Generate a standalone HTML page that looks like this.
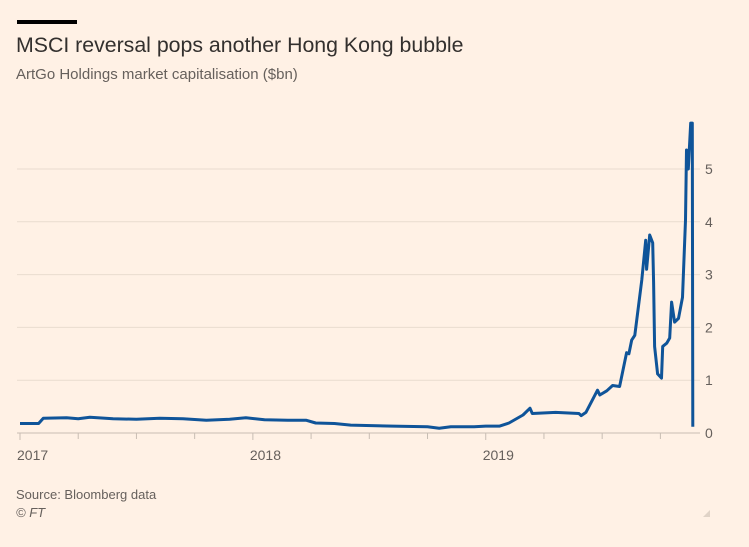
<!DOCTYPE html>
<html><head><meta charset="utf-8"><style>
body{margin:0;background:#fff1e5;font-family:"Liberation Sans",sans-serif;}
#wrap{position:relative;width:749px;height:547px;overflow:hidden;}
.t{position:absolute;white-space:nowrap;}
</style></head><body>
<div id="wrap">
<div class="t" style="left:17px;top:20px;width:60px;height:4px;background:#000"></div>
<div class="t" style="left:16px;top:33px;font-size:21.3px;color:#33302e">MSCI reversal pops another Hong Kong bubble</div>
<div class="t" style="left:16px;top:66px;font-size:15px;color:#66605c">ArtGo Holdings market capitalisation ($bn)</div>
<svg id="chart" width="749" height="547" style="position:absolute;left:0;top:0"></svg>
<div class="t" style="left:16px;top:487px;font-size:13px;color:#66605c">Source: Bloomberg data</div>
<div class="t" style="left:16px;top:505px;font-size:13px;font-style:italic;color:#66605c">© FT</div>
</div>
<script>
const yTicks=[0,1,2,3,4,5];
const xYears=[2017,2018,2019];
const dates=[2017.0,2017.08,2017.1,2017.2,2017.25,2017.3,2017.4,2017.5,2017.6,2017.7,2017.8,2017.9,2017.97,2018.05,2018.15,2018.23,2018.27,2018.35,2018.42,2018.6,2018.75,2018.8,2018.85,2018.95,2019.0,2019.06,2019.10,2019.16,2019.19,2019.20,2019.30,2019.40,2019.41,2019.43,2019.48,2019.49,2019.52,2019.545,2019.575,2019.605,2019.615,2019.627,2019.64,2019.67,2019.687,2019.691,2019.704,2019.717,2019.721,2019.725,2019.738,2019.755,2019.76,2019.777,2019.79,2019.798,2019.811,2019.828,2019.845,2019.858,2019.862,2019.87,2019.88,2019.887,2019.889];
const values=[0.18,0.18,0.28,0.29,0.27,0.3,0.27,0.26,0.28,0.27,0.24,0.26,0.29,0.25,0.24,0.24,0.19,0.18,0.15,0.13,0.12,0.09,0.12,0.12,0.13,0.13,0.19,0.34,0.47,0.37,0.39,0.37,0.33,0.39,0.81,0.72,0.8,0.9,0.88,1.52,1.5,1.76,1.85,2.9,3.65,3.1,3.75,3.6,2.85,1.64,1.12,1.04,1.64,1.7,1.8,2.48,2.1,2.17,2.57,4.03,5.36,5.0,5.87,5.87,0.12];
const NS="http://www.w3.org/2000/svg";
const svg=document.getElementById('chart');
const x0=20,x1=686,d0=2017,d1=2019.86;
const X=d=>x0+(d-d0)/(d1-d0)*(x1-x0);
const Y=v=>433-v*52.8;
function mk(tag,attrs){const e=document.createElementNS(NS,tag);for(const k in attrs)e.setAttribute(k,attrs[k]);svg.appendChild(e);return e;}
yTicks.forEach(v=>{
  const g=mk('line',{x1:17,x2:700,y1:Y(v),y2:Y(v),stroke:v===0?'#c8bdb3':'#e9dccf','stroke-width':1});
  
  
  const t=mk('text',{x:705,y:Y(v)+5,'font-size':14,fill:'#66605c','font-family':'Liberation Sans, sans-serif'});
  t.textContent=v;
  
  
});
for(let q=0;q<12;q++){
  const d=2017+q/4;
  const tk=mk('line',{x1:X(d),x2:X(d),y1:433,y2:q%4===0?440:439,stroke:'#c8bdb3','stroke-width':1});
  
  
}
xYears.forEach(yr=>{
  const t=mk('text',{x:X(yr)-3,y:460,'font-size':14,fill:'#66605c','font-family':'Liberation Sans, sans-serif'});
  t.textContent=yr;
  
  
});
const pts=dates.map((d,i)=>X(d).toFixed(1)+','+Y(values[i]).toFixed(1)).join(' ');
const line=mk('polyline',{points:pts,fill:'none',stroke:'#0f5499','stroke-width':3,'stroke-linejoin':'round'});


const rs=mk('path',{d:'M703 517 L710 510 L710 517 Z',fill:'#e0d3c7'});


</script>
</body></html>
